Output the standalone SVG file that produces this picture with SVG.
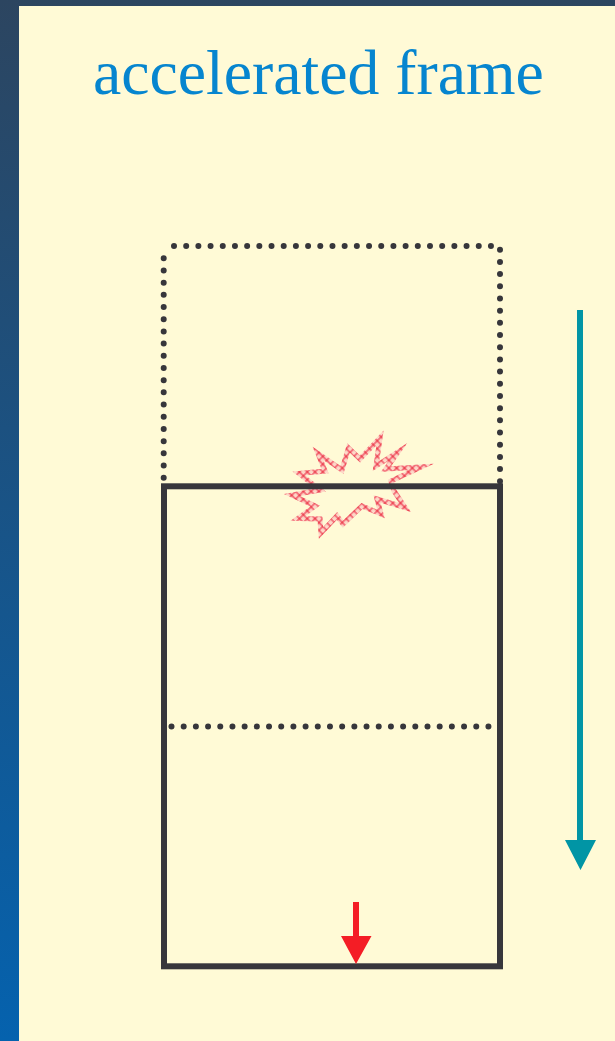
<svg xmlns="http://www.w3.org/2000/svg" width="615" height="1041" viewBox="0 0 615 1041">
<style>
.frame{fill:none;stroke:#37363b;stroke-width:6}
.dots{fill:none;stroke:#37363b;stroke-width:6;stroke-linecap:round;stroke-dasharray:0 12.19}
.title{font-family:"Liberation Serif","Times New Roman",serif;font-size:63.7px;fill:#0685cf}
.burst{fill:none;stroke-linejoin:miter;stroke-miterlimit:10}
</style>
<defs>
<linearGradient id="bg" x1="0" y1="0" x2="0" y2="1">
<stop offset="0" stop-color="#2c4560"/>
<stop offset="1" stop-color="#0562ae"/>
</linearGradient>
<pattern id="hatch" width="5.500" height="5.500" patternUnits="userSpaceOnUse" patternTransform="rotate(45)">
<rect x="0" y="0" width="2" height="5.500" fill="#f4747d"/>
<rect x="0" y="0" width="5.500" height="2" fill="#f4747d"/>
<rect x="0" y="0" width="2" height="2" fill="#ec4853"/>
</pattern>
<path id="burst-shape" d="M299 473.500L325 471L318 453.500L342 470L348.500 448L360 459L380 438L376 466L398 452L386 469L421 467L391 481L394 491L405 507.500L377 499L381 514L362 506L343 524L337 516L321 533L320 519L298 518.500L315 506L292 495L320 490Z"/>
</defs>
<rect id="backdrop" width="615" height="1041" fill="url(#bg)"/>
<rect id="panel" x="19" y="6" width="596" height="1035" fill="#fffad6"/>
<g id="title"><text class="title" x="93" y="94">accelerated frame</text></g>
<g id="previous-position">
<path class="dots" d="M163.700 477.700V246.300"/>
<path class="dots" d="M174 246H491.100"/>
<path class="dots" d="M500 249.700V481.400"/>
</g>
<g id="impact">
<use href="#burst-shape" class="burst" stroke="#fdd8c8" stroke-width="5"/>
<use href="#burst-shape" class="burst" stroke="url(#hatch)" stroke-width="5"/>
</g>
<g id="frame">
<rect class="frame" x="164" y="486.300" width="336" height="480"/>
</g>
<g id="midline">
<path class="dots" d="M171.500 726.500H492"/>
</g>
<g id="connectors">
<path d="M577 310H583V840H596L580.500 870L565 840H577Z" fill="#0195a5"/>
<path d="M353 902H359V936H371.500L356 964L341 936H353Z" fill="#f41d25"/>
</g>
</svg>
